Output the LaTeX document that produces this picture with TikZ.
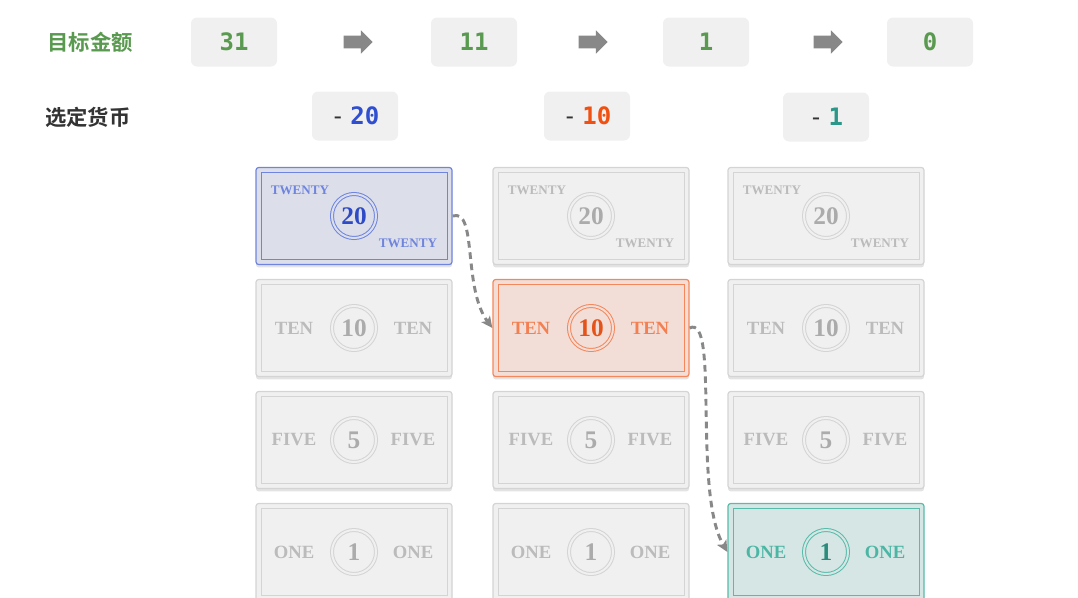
\documentclass[tikz,border=0pt]{standalone}
\usepackage{fontspec}
\usetikzlibrary{arrows.meta,shapes.arrows,shadows}
\newfontfamily\cjk{Noto Sans CJK SC}[BoldFont={Noto Sans CJK SC Bold}]
\newfontfamily\codefont{DejaVu Sans Mono}
\newfontfamily\billfont{Liberation Serif}

\definecolor{boxgray}{HTML}{F0F0F0}
\definecolor{amtgreen}{HTML}{5A9A50}
\definecolor{labeldark}{HTML}{333333}
\definecolor{arrgray}{HTML}{888888}
\definecolor{pickblue}{HTML}{2F4FD0}
\definecolor{pickorange}{HTML}{F05010}
\definecolor{pickteal}{HTML}{2A9788}
\definecolor{grayfill}{HTML}{F0F0F0}
\definecolor{grayline}{HTML}{D4D4D4}
\definecolor{graytext}{HTML}{BBBBBB}
\definecolor{graynum}{HTML}{ABABAB}
\definecolor{bluefill}{HTML}{DCDFEA}
\definecolor{blueline}{HTML}{6E84E0}
\definecolor{bluetext}{HTML}{6F84DD}
\definecolor{bluenum}{HTML}{2E4AC6}
\definecolor{orangefill}{HTML}{F2DED6}
\definecolor{orangeline}{HTML}{F5875C}
\definecolor{orangetext}{HTML}{F48052}
\definecolor{orangenum}{HTML}{E4541A}
\definecolor{tealfill}{HTML}{D6E6E4}
\definecolor{tealline}{HTML}{58BCAB}
\definecolor{tealtext}{HTML}{4CB6A5}
\definecolor{tealnum}{HTML}{2B8C7E}

\tikzstyle{cjklabel}=[inner sep=0pt, font=\cjk\bfseries\fontsize{16}{16}\selectfont]
\tikzstyle{amtbox}=[
    rectangle, rounded corners=4.5pt, fill=boxgray,
    minimum width=64.5pt, minimum height=36.75pt, inner sep=0pt,
    font=\codefont\bfseries\fontsize{18}{18}\selectfont,
]
\tikzstyle{goarrow}=[
    single arrow, fill=arrgray, inner sep=4.5pt,
    minimum height=21.75pt, single arrow head extend=4.1pt,
    single arrow head indent=0pt,
]
\tikzstyle{bill}=[
    rectangle, rounded corners=2pt,
    minimum width=147pt, minimum height=72.75pt, line width=0.9pt,
    drop shadow={shadow xshift=0pt, shadow yshift=-2.2pt, opacity=0.22},
]
\tikzstyle{billin}=[rectangle, minimum width=139.5pt, minimum height=65.25pt, line width=0.5pt]
\tikzstyle{coin}=[
    circle, minimum size=33pt, inner sep=0pt, line width=0.75pt,
    double distance=1.5pt,
    font=\billfont\bfseries\fontsize{19}{19}\selectfont,
]
\tikzstyle{word}=[inner sep=0pt, font=\billfont\bfseries\fontsize{14}{14}\selectfont]
\tikzstyle{smallword}=[inner sep=0pt, font=\billfont\bfseries\fontsize{9.8}{9.8}\selectfont]
\tikzstyle{pathto}=[
    draw=arrgray, line width=2.2pt, dash pattern=on 5pt off 3.5pt,
    -{Stealth[length=8.5pt, width=8pt, inset=2pt]},
]

% name, x, y, scheme, word, value
\newcommand{\bill}[6]{
    \node[bill, draw=#4line, fill=#4fill] (#1) at (#2,#3) {};
    \node[billin, draw=#4line] (#1-in) at (#1) {};
    \node[coin, draw=#4line, double=#4fill, text=#4num] (#1-coin) at (#1) {#6};
    \node[word, text=#4text] (#1-l) at ([xshift=-45pt]#1) {#5};
    \node[word, text=#4text] (#1-r) at ([xshift=44.25pt]#1) {#5};
}
\newcommand{\billc}[6]{
    \node[bill, draw=#4line, fill=#4fill] (#1) at (#2,#3) {};
    \node[billin, draw=#4line] (#1-in) at (#1) {};
    \node[coin, draw=#4line, double=#4fill, text=#4num] (#1-coin) at (#1) {#6};
    \node[smallword, text=#4text] (#1-l) at ([shift={(-40.5pt,19.5pt)}]#1) {#5};
    \node[smallword, text=#4text] (#1-r) at ([shift={(40.5pt,-20.25pt)}]#1) {#5};
}

\begin{document}
\begin{tikzpicture}[x=0.75pt, y=0.75pt]
    \useasboundingbox (0,0) rectangle (1078,-597);

    \node[cjklabel, text=amtgreen] (target) at (90,-42) {目标金额};
    \node[cjklabel, text=labeldark] (chosen) at (88,-117) {选定货币};

    \node[amtbox, text=amtgreen] (amt31) at (234,-42) {31};
    \node[amtbox, text=amtgreen] (amt11) at (474,-42) {11};
    \node[amtbox, text=amtgreen] (amt1) at (706,-42) {1};
    \node[amtbox, text=amtgreen] (amt0) at (930,-42) {0};
    \node[goarrow] (go1) at (355,-42) {};
    \node[goarrow] (go2) at (590,-42) {};
    \node[goarrow] (go3) at (825,-42) {};

    \node[amtbox] (pick20) at (355,-116) {\textcolor{labeldark}{\mdseries -}\hspace{4pt}\textcolor{pickblue}{20}};
    \node[amtbox] (pick10) at (587,-116) {\textcolor{labeldark}{\mdseries -}\hspace{4pt}\textcolor{pickorange}{10}};
    \node[amtbox] (pick1) at (826,-117) {\textcolor{labeldark}{\mdseries -}\hspace{4pt}\textcolor{pickteal}{1}};

    \billc{bill20a}{354}{-216}{blue}{TWENTY}{20}
    \bill{bill10a}{354}{-328}{gray}{TEN}{10}
    \bill{bill5a}{354}{-440}{gray}{FIVE}{5}
    \bill{bill1a}{354}{-552}{gray}{ONE}{1}

    \billc{bill20b}{591}{-216}{gray}{TWENTY}{20}
    \bill{bill10b}{591}{-328}{orange}{TEN}{10}
    \bill{bill5b}{591}{-440}{gray}{FIVE}{5}
    \bill{bill1b}{591}{-552}{gray}{ONE}{1}

    \billc{bill20c}{826}{-216}{gray}{TWENTY}{20}
    \bill{bill10c}{826}{-328}{gray}{TEN}{10}
    \bill{bill5c}{826}{-440}{gray}{FIVE}{5}
    \bill{bill1c}{826}{-552}{teal}{ONE}{1}

    \draw[pathto] (bill20a.east) .. controls +(25,8) and +(-30,40) .. (bill10b.west);
    \draw[pathto] (bill10b.east) .. controls +(30,15) and +(-35,60) .. (bill1c.west);
\end{tikzpicture}
\end{document}
